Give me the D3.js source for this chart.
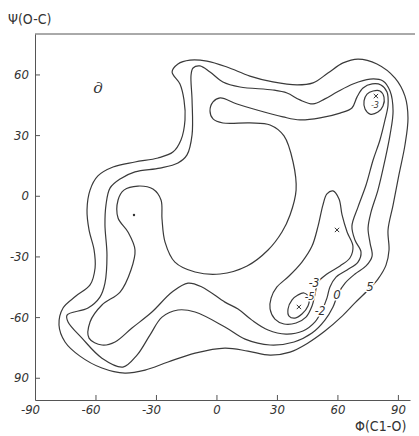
<!DOCTYPE html>
<html>
<head>
<meta charset="utf-8">
<script src="https://cdn.jsdelivr.net/npm/d3@7/dist/d3.min.js"></script>
<style>
  body { margin: 0; background: #fff; }
  svg text {
    font-family: "Liberation Sans Narrow", "DejaVu Sans Condensed", "Liberation Sans", sans-serif;
    font-style: italic;
    fill: #333;
  }
</style>
</head>
<body>
<svg id="chart" width="419" height="436"></svg>
<script>
// axis ticks (phi, psi in degrees)
var xTicks = [-90, -60, -30, 0, 30, 60, 90];
var xTickLabels = ["-90", "-60", "-30", "0", "30", "60", "90"];
var yTicks = [60, 30, 0, -30, -60, -90];
var yTickLabels = ["60", "30", "0", "-30", "-60", "90"];

// contour lines, [phi, psi]
var contour5 = [[-22.0,61.2],[-19.1,65.2],[-13.1,67.1],[-4.7,66.6],[5.2,63.7],[16.6,59.2],[28.0,56.3],[40.0,54.8],[47.9,55.8],[55.3,60.7],[62.8,65.7],[70.2,67.6],[79.6,65.2],[88.6,58.2],[93.5,49.3],[95.0,38.5],[93.5,25.1],[90.5,10.3],[87.6,-4.6],[85.1,-16.9],[85.6,-26.8],[84.1,-34.3],[80.1,-41.2],[75.2,-46.6],[68.7,-53.0],[61.8,-60.0],[53.8,-66.9],[45.4,-72.8],[36.5,-77.3],[26.6,-78.8],[15.6,-76.8],[4.2,-75.3],[-10.6,-77.8],[-24.0,-82.2],[-35.4,-86.2],[-45.4,-87.7],[-56.8,-85.2],[-67.7,-79.3],[-75.1,-72.3],[-78.1,-63.9],[-76.1,-55.5],[-69.7,-49.6],[-62.7,-44.1],[-60.2,-35.7],[-60.7,-26.8],[-63.2,-16.9],[-64.2,-7.0],[-62.7,2.8],[-58.8,9.8],[-51.3,14.2],[-40.4,16.7],[-29.0,18.7],[-21.6,21.6],[-17.6,27.6],[-15.6,37.5],[-16.1,47.4],[-18.1,55.3]];

var contour0 = [[-12.6,59.7],[-11.6,63.2],[-8.2,64.2],[-3.2,61.2],[3.2,56.3],[11.7,53.8],[28.0,52.3],[35.0,50.8],[41.4,47.4],[47.9,45.4],[53.8,47.9],[59.8,51.3],[67.7,55.3],[76.2,57.7],[82.6,56.8],[86.1,51.8],[87.6,41.9],[86.1,30.1],[83.6,17.7],[80.1,2.8],[76.7,-8.0],[75.2,-16.0],[76.2,-23.4],[77.2,-29.8],[74.2,-34.7],[68.7,-38.7],[63.8,-43.2],[60.3,-48.6],[57.8,-55.0],[53.8,-61.5],[47.4,-67.9],[38.5,-72.3],[26.6,-73.8],[14.2,-70.9],[4.2,-64.9],[-10.6,-57.5],[-19.1,-56.5],[-27.0,-60.0],[-33.0,-68.9],[-39.4,-78.8],[-46.4,-84.7],[-56.8,-80.3],[-66.7,-70.4],[-73.6,-62.4],[-74.1,-59.0],[-63.7,-55.5],[-57.8,-50.1],[-55.3,-43.2],[-54.3,-29.3],[-55.3,-14.5],[-54.8,-4.6],[-52.8,3.8],[-47.8,8.3],[-40.4,11.8],[-28.0,13.7],[-19.1,16.2],[-14.6,20.2],[-12.1,30.1],[-12.1,47.4]];

var contourM2 = [[-3.2,41.9],[-1.7,46.4],[1.8,48.4],[10.2,45.4],[20.1,42.4],[33.0,39.0],[41.4,37.5],[51.4,38.5],[61.3,40.9],[67.2,43.4],[69.7,48.8],[72.7,53.3],[77.2,55.3],[81.6,54.8],[84.6,51.3],[85.1,44.9],[83.6,37.5],[81.1,27.6],[77.7,17.7],[74.2,5.3],[70.2,-5.6],[67.2,-15.0],[68.7,-21.9],[71.7,-27.8],[70.2,-32.8],[64.8,-36.7],[59.3,-40.2],[56.3,-45.1],[54.8,-50.6],[52.4,-56.5],[48.9,-62.4],[42.9,-66.9],[34.5,-68.4],[25.6,-66.4],[17.6,-61.5],[10.7,-56.0],[4.2,-52.6],[-7.2,-45.1],[-14.1,-43.2],[-22.0,-47.6],[-32.0,-57.5],[-41.9,-65.4],[-50.3,-72.3],[-56.8,-73.8],[-63.2,-70.4],[-62.7,-62.4],[-56.8,-54.0],[-47.8,-47.6],[-42.4,-36.7],[-40.4,-26.8],[-43.9,-17.9],[-48.8,-11.0],[-48.8,-2.1],[-45.9,2.8],[-38.9,4.8],[-31.5,3.3],[-27.5,-2.1],[-27.0,-11.5],[-25.5,-22.9],[-20.6,-32.8],[-10.6,-37.7],[1.8,-38.7],[15.2,-34.7],[25.6,-26.8],[32.5,-17.9],[36.5,-9.5],[39.5,2.8],[38.0,16.7],[33.5,29.6],[26.6,35.0],[16.6,36.0],[3.2,36.0],[-1.7,38.0]];

var contourM3 = [[57.8,2.4],[60.8,-1.6],[62.3,-9.5],[64.8,-17.9],[67.7,-24.9],[66.2,-30.8],[61.3,-34.7],[54.8,-38.7],[50.4,-42.7],[48.9,-48.6],[47.4,-54.5],[44.4,-60.0],[39.5,-62.9],[33.5,-63.4],[29.0,-61.0],[26.6,-56.0],[27.1,-50.6],[30.0,-45.1],[36.0,-39.7],[42.4,-32.8],[47.4,-24.9],[50.4,-15.0],[52.8,-4.6],[54.8,0.9]];

var contourM3top = [[73.2,46.9],[74.7,50.3],[77.7,51.8],[81.1,51.8],[83.1,48.8],[82.6,44.4],[80.1,41.4],[76.2,40.4],[73.7,42.9]];

var contourM5 = [[43.4,-48.1],[45.9,-50.6],[45.4,-54.5],[42.4,-58.5],[39.0,-60.5],[36.0,-59.5],[35.5,-56.0],[37.5,-51.5],[40.4,-49.1]];

var contours = [contour5, contour0, contourM2, contourM3, contourM3top, contourM5];

// level labels written on the lines
var labelText = ["5", "0", "-2", "-3", "-5", "-3"];
var labelPhi = [76.2, 59.8, 51.4, 48.4, 46.2, 78.6];
var labelPsi = [-44.6, -48.6, -57.0, -43.2, -49.4, 44.9];
var labelSize = [13, 13, 12, 12, 11, 9];

// minima
var crossPhi = [40.9, 59.8, 79.1];
var crossPsi = [-55.0, -16.9, 49.3];
var dotPhi = [-40.9];
var dotPsi = [-9.5];

var svg = d3.select("#chart");

var x = d3.scaleLinear().domain([-90, 96]).range([35, 410]);
var y = d3.scaleLinear().domain([-101, 80]).range([400, 34]);

var line = d3
  .line()
  .x(function (d) { return x(d[0]); })
  .y(function (d) { return y(d[1]); })
  .curve(d3.curveCatmullRomClosed.alpha(0.5));

svg
  .append("g")
  .selectAll("path")
  .data(contours)
  .enter()
  .append("path")
  .attr("d", line)
  .attr("fill", "none")
  .attr("stroke", "#3a3a3a")
  .attr("stroke-width", 1.2);

// axes
var xAxis = d3
  .axisBottom(x)
  .tickValues(xTicks)
  .tickFormat(function (d, i) { return xTickLabels[i]; })
  .tickSizeInner(-5)
  .tickSizeOuter(0)
  .tickPadding(5);

var yAxis = d3
  .axisLeft(y)
  .tickValues(yTicks)
  .tickFormat(function (d, i) { return yTickLabels[i]; })
  .tickSizeInner(-5)
  .tickSizeOuter(0)
  .tickPadding(6);

var gx = svg.append("g").attr("transform", "translate(0," + y.range()[0] + ")").call(xAxis);
var gy = svg.append("g").attr("transform", "translate(" + x.range()[0] + ",0)").call(yAxis);

[gx, gy].forEach(function (g) {
  g.select(".domain").attr("stroke", "#555");
  g.selectAll(".tick line").attr("stroke", "#555");
  g.selectAll(".tick text")
    .attr("font-size", 13)
    .attr("font-family", null)
    .attr("fill", "#333");
});
gx.selectAll(".tick text").attr("dx", function (d) { return d < 0 ? -5 : 0; });

// top frame line
svg
  .append("line")
  .attr("x1", x.range()[0])
  .attr("x2", x.range()[1] + 5)
  .attr("y1", y.range()[1])
  .attr("y2", y.range()[1])
  .attr("stroke", "#555");

// axis titles
svg.append("text").attr("x", 8).attr("y", 24).attr("font-size", 14).style("font-style", "normal").text("Ψ(O-C)");
svg.append("text").attr("x", 355).attr("y", 431).attr("font-size", 14).style("font-style", "normal").text("Φ(C1-O)");

// panel letter
svg
  .append("text")
  .attr("x", x(-58.8))
  .attr("y", y(53.3))
  .attr("text-anchor", "middle")
  .attr("dy", "0.35em")
  .attr("font-size", 15)
  .style("font-family", "DejaVu Serif, serif")
  .text("д");

// level labels
svg
  .append("g")
  .selectAll("text")
  .data(labelText)
  .enter()
  .append("text")
  .attr("x", function (d, i) { return x(labelPhi[i]); })
  .attr("y", function (d, i) { return y(labelPsi[i]); })
  .attr("text-anchor", "middle")
  .attr("dy", "0.35em")
  .attr("font-size", function (d, i) { return labelSize[i]; })
  .attr("stroke", "#fff")
  .attr("stroke-width", 3)
  .attr("paint-order", "stroke")
  .text(function (d) { return d; });

// minima markers
svg
  .append("g")
  .selectAll("path")
  .data(crossPhi)
  .enter()
  .append("path")
  .attr("transform", function (d, i) {
    return "translate(" + x(d) + "," + y(crossPsi[i]) + ")";
  })
  .attr("d", d3.symbol(d3.symbolX, 14))
  .attr("fill", "none")
  .attr("stroke", "#333")
  .attr("stroke-width", 1);

svg
  .append("g")
  .selectAll("circle")
  .data(dotPhi)
  .enter()
  .append("circle")
  .attr("cx", function (d) { return x(d); })
  .attr("cy", function (d, i) { return y(dotPsi[i]); })
  .attr("r", 1.2)
  .attr("fill", "#333");
</script>
</body>
</html>
